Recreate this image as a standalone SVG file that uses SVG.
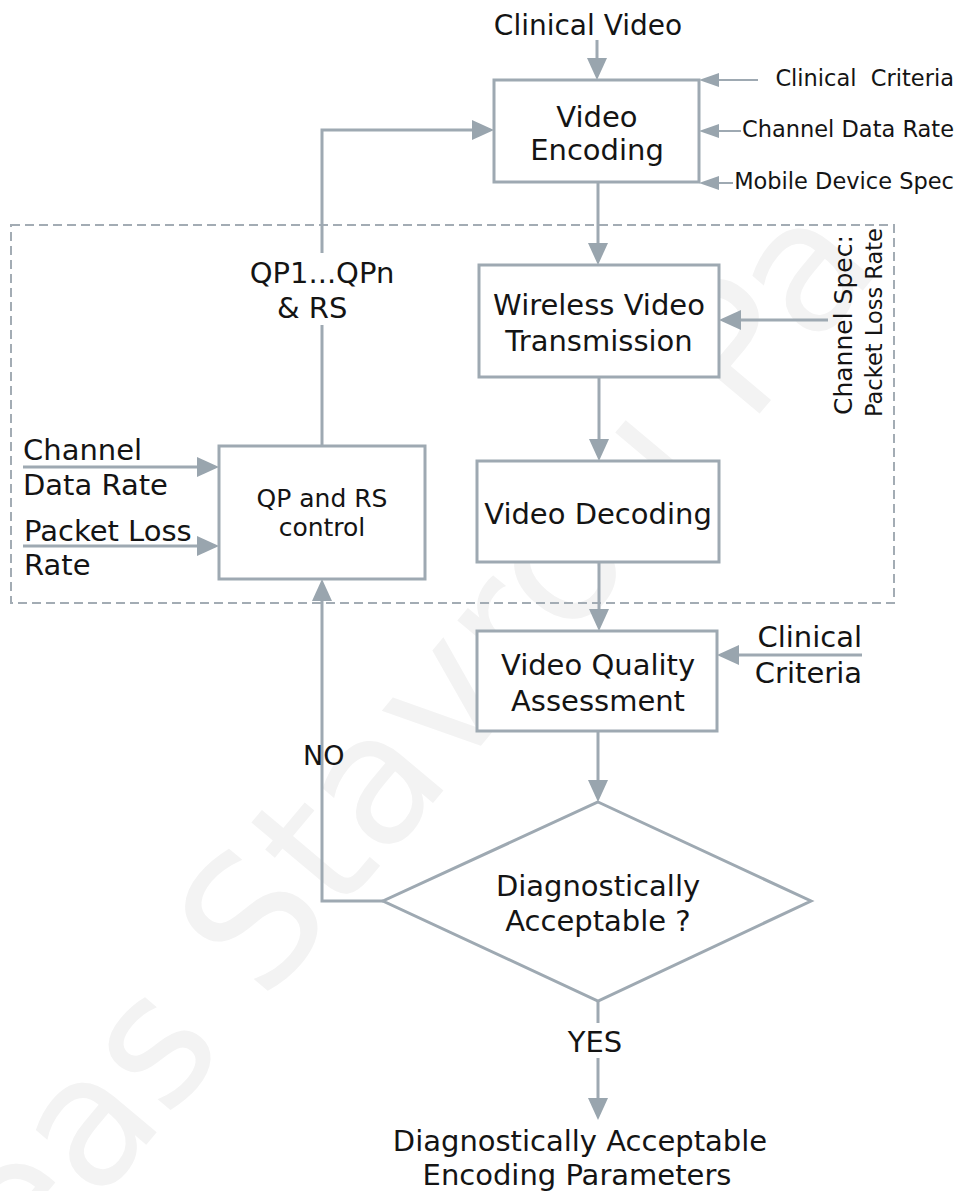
<svg xmlns="http://www.w3.org/2000/svg" width="959" height="1191" viewBox="0 0 959 1191">
  <defs>
    <style>
      .t { font-family: "DejaVu Sans", Verdana, sans-serif; fill: #141414; }
      .big { font-size: 29px; }
      .mid { font-size: 25px; }
      .sm { font-size: 22.5px; }
      .c { text-anchor: middle; }
      .e { text-anchor: end; }
      .box { fill: #ffffff; stroke: #9ea9b2; stroke-width: 3; }
      .ln { fill: none; stroke: #9ea9b2; stroke-width: 3; }
      .thin { fill: none; stroke: #9ea9b2; stroke-width: 2; }
      .wm { font-family: "DejaVu Sans", Verdana, sans-serif; font-size: 180px; fill: #f3f3f3; }
    </style>
    <marker id="ah" viewBox="0 0 22 20" refX="16" refY="10" markerWidth="22" markerHeight="20" markerUnits="userSpaceOnUse" orient="auto">
      <path d="M0,0 L22,10 L0,20 z" fill="#99a5ae"/>
    </marker>
    <marker id="ahs" viewBox="0 0 20 14" refX="14" refY="7" markerWidth="20" markerHeight="14" markerUnits="userSpaceOnUse" orient="auto">
      <path d="M0,0 L20,7 L0,14 z" fill="#99a5ae"/>
    </marker>
  </defs>

  <rect width="959" height="1191" fill="#ffffff"/>

  <!-- background watermark -->
  <text class="wm" transform="translate(25,1289) rotate(-50)">eas Stavrou Pa</text>

  <!-- optimisation loop boundary -->
  <rect id="loop-boundary" x="11" y="225" width="883" height="378" fill="none" stroke="#a3acb4" stroke-width="2" stroke-dasharray="9 5"/>

  <!-- connectors -->
  <g id="connectors">
    <path class="ln" d="M597,40 V74" marker-end="url(#ah)"/>
    <path class="thin" d="M758,80 H705" marker-end="url(#ahs)"/>
    <path class="thin" d="M741,131 H705" marker-end="url(#ahs)"/>
    <path class="thin" d="M733,183 H705" marker-end="url(#ahs)"/>
    <path class="ln" d="M598,182 V259" marker-end="url(#ah)"/>
    <path class="ln" d="M828,320 H725" marker-end="url(#ah)"/>
    <path class="ln" d="M599,377 V455" marker-end="url(#ah)"/>
    <path class="ln" d="M599,562 V625" marker-end="url(#ah)"/>
    <path class="ln" d="M862,655 H723" marker-end="url(#ah)"/>
    <path class="ln" d="M598,731 V796" marker-end="url(#ah)"/>
    <path class="ln" d="M598,1001 V1023"/>
    <path class="ln" d="M598,1058 V1114" marker-end="url(#ah)"/>
    <path class="ln" d="M383,901 H322 V585" marker-end="url(#ah)"/>
    <path class="ln" d="M322,446 V325"/>
    <path class="ln" d="M322,253 V130 H488" marker-end="url(#ah)"/>
    <path class="ln" d="M23,467 H213" marker-end="url(#ah)"/>
    <path class="ln" d="M23,546 H213" marker-end="url(#ah)"/>
  </g>

  <!-- inputs and labels -->
  <g id="input-clinical-video">
    <text class="t c" x="588" y="35" font-size="28">Clinical Video</text>
  </g>
  <g id="encoder-inputs">
    <text class="t sm e" x="954" y="86" xml:space="preserve">Clinical  Criteria</text>
    <text class="t sm e" x="954" y="137">Channel Data Rate</text>
    <text class="t sm e" x="954" y="189">Mobile Device Spec</text>
  </g>

  <g id="video-encoding">
    <rect class="box" x="494" y="80" width="205" height="102"/>
    <text class="t big c" x="597" y="127">Video</text>
    <text class="t big c" x="597" y="160">Encoding</text>
  </g>

  <g id="qp-label">
    <text class="t big c" x="322" y="283">QP1...QPn</text>
    <text class="t big" x="277" y="318">&amp; RS</text>
  </g>

  <g id="wireless-transmission">
    <rect class="box" x="479" y="265" width="240" height="112"/>
    <text class="t big c" x="599" y="315">Wireless Video</text>
    <text class="t big c" x="599" y="351">Transmission</text>
  </g>

  <g id="channel-spec">
    <text class="t mid" transform="translate(852,415) rotate(-90)">Channel Spec:</text>
    <text class="t sm" transform="translate(882,417) rotate(-90)">Packet Loss Rate</text>
  </g>

  <g id="control-inputs">
    <text class="t big" x="23" y="460">Channel</text>
    <text class="t big" x="23" y="495">Data Rate</text>
    <text class="t big" x="24" y="541">Packet Loss</text>
    <text class="t big" x="24" y="575">Rate</text>
  </g>

  <g id="qp-rs-control">
    <rect class="box" x="219" y="446" width="206" height="133"/>
    <text class="t mid c" x="322" y="507">QP and RS</text>
    <text class="t mid c" x="322" y="536">control</text>
  </g>

  <g id="video-decoding">
    <rect class="box" x="477" y="461" width="242" height="101"/>
    <text class="t big c" x="598" y="524">Video Decoding</text>
  </g>

  <g id="quality-assessment">
    <rect class="box" x="477" y="631" width="240" height="100"/>
    <text class="t big c" x="598" y="675">Video Quality</text>
    <text class="t big c" x="598" y="711">Assessment</text>
  </g>

  <g id="assessment-criteria">
    <text class="t big e" x="862" y="647">Clinical</text>
    <text class="t big e" x="862" y="683">Criteria</text>
  </g>

  <g id="decision">
    <polygon class="box" points="598,802 811,901 598,1001 383,901"/>
    <text class="t big c" x="598" y="896">Diagnostically</text>
    <text class="t big c" x="598" y="931">Acceptable ?</text>
  </g>

  <g id="branch-labels">
    <text class="t" x="303" y="765" font-size="27">NO</text>
    <text class="t big c" x="595" y="1052">YES</text>
  </g>

  <g id="output-parameters">
    <text class="t big c" x="580" y="1151">Diagnostically Acceptable</text>
    <text class="t big c" x="577" y="1185">Encoding Parameters</text>
  </g>
</svg>
